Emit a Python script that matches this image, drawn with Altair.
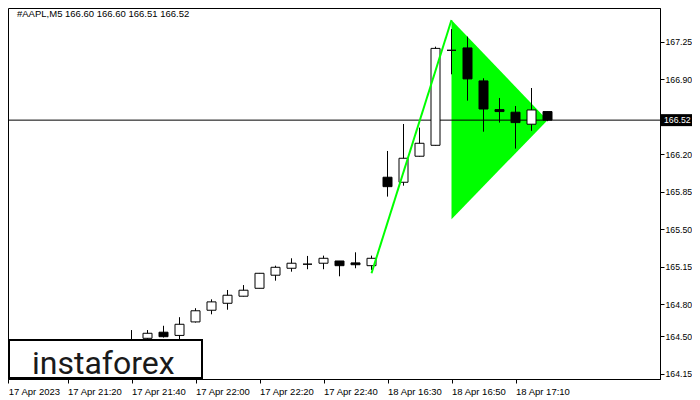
import altair as alt
import pandas as pd

# ---- data ----
idx = list(range(8, 35))
opens  = [164.47, 164.483, 164.54, 164.51, 164.636, 164.745, 164.81, 164.876, 164.95, 165.072,
          165.137, 165.175, 165.184, 165.205, 165.187, 165.161,
          165.987, 165.94, 166.183, 166.285, 167.172, 167.194, 166.886, 166.618, 166.594, 166.482, 166.60]
highs  = [164.56, 164.56, 164.60, 164.68, 164.764, 164.847, 164.934, 164.98, 165.093, 165.161,
          165.23, 165.252, 165.255, 165.205, 165.286, 165.255,
          166.232, 166.484, 166.45, 167.206, 167.37, 167.30, 166.911, 166.727, 166.652, 166.82, 166.60]
lows   = [164.45, 164.467, 164.49, 164.47, 164.63, 164.707, 164.75, 164.874, 164.95, 165.021,
          165.105, 165.128, 165.128, 165.062, 165.137, 165.121,
          165.806, 165.908, 166.18, 166.283, 166.948, 166.702, 166.412, 166.497, 166.254, 166.42, 166.51]
closes = [164.47, 164.53, 164.498, 164.614, 164.74, 164.823, 164.885, 164.932, 165.09, 165.146,
          165.184, 165.175, 165.23, 165.161, 165.17, 165.23,
          165.899, 166.164, 166.304, 167.19, 167.172, 166.905, 166.624, 166.6, 166.497, 166.615, 166.52]

tick_idx = [0.3, 4, 8, 12, 16, 20, 24, 28, 32]
tick_labels = ["17 Apr 2023", "17 Apr 21:20", "17 Apr 21:40", "17 Apr 22:00", "17 Apr 22:20",
               "17 Apr 22:40", "18 Apr 16:30", "18 Apr 16:50", "18 Apr 17:10"]
price_ticks = [164.15, 164.50, 164.80, 165.15, 165.50, 165.85, 166.20, 166.90, 167.25]

pole_x = [23, 28]
pole_y = [165.09, 167.455]
tri_x = [28, 34]
tri_top = [167.455, 166.52]
tri_bottom = [165.595, 166.52]

last_price = 166.52
title_text = "#AAPL,M5  166.60 166.60 166.51 166.52"

df = pd.DataFrame({"i": idx, "open": opens, "high": highs, "low": lows, "close": closes})
df["fill"] = ["white" if c >= o else "black" for o, c in zip(opens, closes)]
pole = pd.DataFrame({"i": pole_x, "p": pole_y})
tri = pd.DataFrame({"i": tri_x, "top": tri_top, "bottom": tri_bottom})
one = pd.DataFrame({"k": [0]})

FONT = "Liberation Sans"
label_js = "[" + ",".join("'" + s + "'" for s in tick_labels) + "]"

xscale = alt.Scale(domain=[0.281, 41.031], nice=False, zero=False, padding=0)
yscale = alt.Scale(domain=[164.103, 167.567], nice=False, zero=False, padding=0)

xaxis = alt.Axis(values=tick_idx, labelExpr=label_js + "[round(datum.value/4)]",
                 labelAlign="left", labelPadding=3, tickSize=4, tickColor="black",
                 domainColor="black", labelColor="black", labelFont=FONT, labelFontSize=9.5,
                 grid=False, title=None, labelOverlap=False, labelBound=False, labelFlush=False)
yaxis = alt.Axis(orient="right", values=price_ticks, format=".2f", tickSize=4, tickColor="black",
                 domainColor="black", labelColor="black", labelFont=FONT, labelFontSize=8.7,
                 labelPadding=1, grid=False, title=None)

triangle = alt.Chart(tri).mark_area(color="#00FF00", opacity=1).encode(
    x=alt.X("i:Q", scale=xscale, axis=xaxis),
    y=alt.Y("top:Q", scale=yscale, axis=yaxis),
    y2="bottom:Q",
)

hline = alt.Chart(one).mark_rule(color="black", strokeWidth=1).encode(y=alt.datum(last_price))

wicks = alt.Chart(df).mark_rule(color="black", strokeWidth=1).encode(
    x=alt.X("i:Q", scale=xscale), y=alt.Y("low:Q", scale=yscale), y2="high:Q")

bodies = alt.Chart(df).mark_bar(width=9, stroke="black", strokeWidth=1).encode(
    x=alt.X("i:Q", scale=xscale), y=alt.Y("open:Q", scale=yscale), y2="close:Q",
    fill=alt.Fill("fill:N", scale=None))

pole_line = alt.Chart(pole).mark_line(color="#00FF00", strokeWidth=2).encode(
    x=alt.X("i:Q", scale=xscale), y=alt.Y("p:Q", scale=yscale))

price_box = alt.Chart(one).mark_rect(color="black").encode(
    x=alt.value(653), x2=alt.value(684),
    y=alt.datum(last_price + 0.056), y2=alt.datum(last_price - 0.056))
price_text = alt.Chart(one).mark_text(color="white", align="left", baseline="middle",
                                      font=FONT, fontSize=8.7).encode(
    x=alt.value(656), y=alt.datum(last_price), text=alt.value(f"{last_price:.2f}"))

title = alt.Chart(one).mark_text(color="black", align="left", baseline="middle",
                                 font=FONT, fontSize=9.5).encode(
    x=alt.value(9), y=alt.value(6), text=alt.value(title_text))

logo_box = alt.Chart(one).mark_rect(fill="white", stroke="black", strokeWidth=2).encode(
    x=alt.value(1), x2=alt.value(194), y=alt.value(332), y2=alt.value(370))
logo_text = alt.Chart(one).mark_text(color="#1a1a1a", align="left", baseline="alphabetic",
                                     font="Liberation Sans Narrow, Roboto", fontSize=32).encode(
    x=alt.value(24), y=alt.value(366), text=alt.value("instaforex"))

chart = alt.layer(triangle, hline, wicks, bodies, pole_line, price_box, price_text,
                  title, logo_box, logo_text).properties(
    width=652, height=371,
    autosize=alt.AutoSizeParams(type="none"),
    padding={"left": 0, "top": 0, "right": 32, "bottom": 21},
    background="white",
).configure_view(stroke="black", strokeWidth=1)

chart.save("out.html", embed_options={"renderer": "svg", "actions": False})
